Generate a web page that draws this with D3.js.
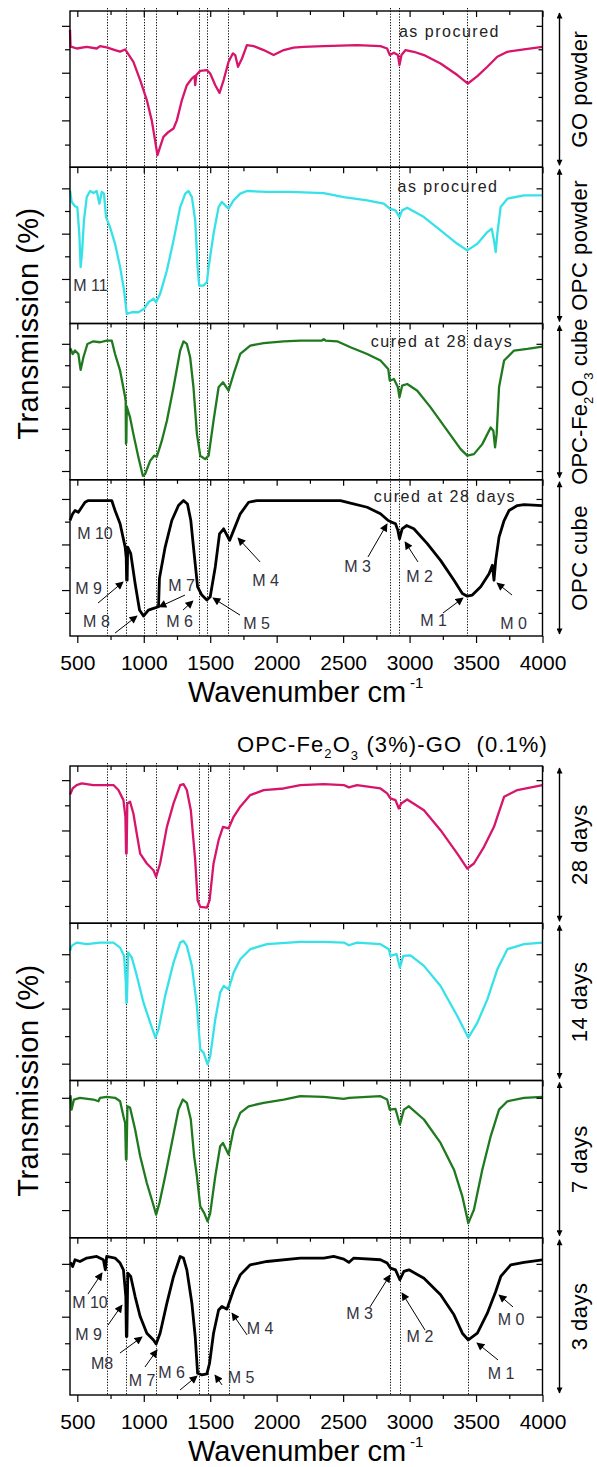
<!DOCTYPE html>
<html>
<head>
<meta charset="utf-8">
<script src="https://cdn.jsdelivr.net/npm/d3@7"></script>
<style>
  html, body { margin: 0; padding: 0; background: #fff; }
  svg { display: block; }
  text { font-family: Arial, "Liberation Sans", sans-serif; }
</style>
</head>
<body>
<svg id="chart" width="597" height="1467"></svg>
<script>
// ---- wavenumber axis ----
const xDomain = [445, 4000];
const xMajorTicks = [500, 1000, 1500, 2000, 2500, 3000, 3500, 4000];
const xMinorTicks = [750, 1250, 1750, 2250, 2750, 3250, 3750];

// ---- band positions marked with dotted guides ----
const bandsPowder = [720, 866, 1000, 1092, 1414, 1478, 1636, 2851, 2922, 3432];
const bandsCured  = [720, 867, 1093, 1416, 1480, 1638, 2855, 2930, 3440];

// ---- spectra: [wavenumber (cm-1), transmission (% of panel span)] ----
const goPowder = [[445,88],[449,77],[458,77],[495,76],[571,77],[646,76],[671,77.5],[721,76.7],[784,75],[822,74],[860,75.4],[922,67.5],[973,55.8],[1023,43],[1060,30],[1085,17.3],[1103,7.7],[1123,13],[1148,19.4],[1186,22.6],[1224,24.8],[1249,30],[1287,43],[1324,52.5],[1362,56.8],[1382,58.3],[1387,52.5],[1395,59],[1425,61.7],[1475,62.2],[1500,60],[1538,52.5],[1570,47.6],[1601,55.8],[1638,67.5],[1671,72.9],[1688,71.8],[1709,64.3],[1739,69.6],[1776,78.2],[1827,77.5],[1902,75],[1977,71.8],[2053,75],[2128,76.5],[2200,77.1],[2354,77.5],[2605,78.2],[2781,77.5],[2831,76],[2851,71.8],[2882,73.3],[2912,71.8],[2924,65.4],[2939,71.8],[2970,75],[3032,73.9],[3108,71.8],[3233,66.4],[3359,59],[3422,54.7],[3439,53.6],[3510,58.3],[3585,64.3],[3660,70.7],[3736,73.9],[3861,75.4],[3999,77.1]];

const opcPowder = [[445,85.2],[458,77.8],[483,75],[500,74.5],[515,57.4],[525,36.1],[535,44.6],[550,66],[571,80.9],[596,84.8],[621,83.5],[646,84.8],[666,76.7],[684,84.2],[701,83.1],[716,68.1],[746,61.7],[784,51],[822,36.1],[852,21.1],[872,6.2],[910,7.2],[960,7.2],[1003,9.4],[1035,13.6],[1073,15.8],[1093,13.6],[1123,19],[1174,33.9],[1224,53.2],[1274,74.5],[1312,83.1],[1337,84.8],[1362,80.9],[1387,66],[1405,36.1],[1417,24.3],[1450,24.3],[1475,26.5],[1488,36.1],[1525,57.4],[1563,74.5],[1588,77.8],[1613,75.6],[1638,73.5],[1676,78.8],[1726,83.1],[1776,84.8],[1927,84.2],[2103,84.2],[2354,83.5],[2505,80.9],[2681,78.8],[2806,76.7],[2851,73.5],[2894,72.4],[2924,68.1],[2944,72.4],[2982,74.1],[3108,68.1],[3233,59.6],[3359,51],[3434,46.8],[3510,51],[3585,58.5],[3618,60.7],[3635,53.2],[3648,45.7],[3660,57.4],[3685,74.5],[3736,79.9],[3861,82],[3999,82]];

const opcFeCube = [[445,84],[450,83.7],[465,80.5],[483,82.7],[508,80.5],[525,70.3],[546,78.4],[576,86.9],[621,88.6],[671,88],[721,89.1],[759,89.1],[784,80.5],[822,69.8],[860,52.8],[864,50],[866,23],[869,24],[872,47],[877,45.3],[897,39.9],[922,29.2],[960,14.3],[993,2.5],[1010,3.6],[1048,12.1],[1078,15.4],[1098,14.7],[1136,25],[1174,37.8],[1224,59.2],[1274,82.7],[1299,88.6],[1324,86.9],[1349,78.4],[1374,59.2],[1400,29.2],[1425,15.4],[1462,13.2],[1488,15.4],[1525,37.8],[1563,59.2],[1596,62.4],[1638,57],[1676,67.7],[1726,80.5],[1801,85.9],[1902,87.4],[2053,88.6],[2178,89.1],[2340,89.1],[2354,90],[2368,89.1],[2455,88.6],[2555,84.8],[2681,80.5],[2781,76.3],[2839,70.9],[2851,63.4],[2882,64.5],[2912,59.2],[2924,52.8],[2944,60.2],[2982,61.3],[3058,57],[3158,46.3],[3284,31.4],[3384,19.6],[3434,15.4],[3484,16.4],[3547,22.8],[3610,33.5],[3630,31.4],[3643,20.7],[3655,29.2],[3673,59.2],[3711,76.3],[3786,82.7],[3886,83.7],[3999,85.2]];

const opcCube = [[445,74],[450,75],[465,78.2],[483,80.3],[508,79.2],[533,82.4],[558,85.6],[583,86.7],[671,86.7],[759,86.7],[784,80.3],[822,71.8],[860,56.9],[868,50],[871,35.7],[875,35.7],[879,56.9],[902,52.7],[935,33.6],[968,16.6],[998,12.8],[1035,16.6],[1073,17.7],[1111,18.7],[1118,37],[1161,56.9],[1211,73.9],[1261,83.5],[1299,86.7],[1329,84.5],[1354,73.9],[1379,52.7],[1405,31.5],[1437,26.2],[1475,23],[1500,25.1],[1538,44.2],[1570,65.4],[1601,68.6],[1646,61.2],[1676,67.6],[1726,78.2],[1789,85.6],[1852,86.7],[2178,86.7],[2480,86.7],[2555,85],[2681,82.4],[2781,78.2],[2839,73.9],[2864,72.9],[2894,71.8],[2912,67.6],[2924,62.2],[2944,68.6],[2977,70.7],[3032,68.6],[3133,59.1],[3233,48.4],[3334,35.7],[3397,27.2],[3434,25.5],[3472,26.2],[3535,31.5],[3598,39.9],[3623,45.3],[3635,35.7],[3648,48.4],[3673,63.3],[3711,73.9],[3748,80.3],[3811,83.5],[3861,84.1],[3999,83.5]];

const cured28 = [[445,82],[450,82.6],[465,85.7],[495,87.9],[533,88.9],[621,87.9],[721,87.9],[772,87.9],[809,84.7],[847,78.3],[862,67.7],[867,44.3],[871,44.3],[876,76.2],[897,77.3],[922,69.8],[947,57.1],[973,44.3],[1023,38],[1073,33.7],[1093,29.5],[1123,38],[1174,61.3],[1224,76.2],[1274,87.9],[1299,88.5],[1324,84.7],[1354,71.9],[1387,40.1],[1405,14.6],[1425,10.4],[1475,10],[1495,14.6],[1525,38],[1563,52.8],[1596,61.3],[1638,60.3],[1676,67.7],[1726,74.1],[1801,81.5],[1902,84.7],[2053,85.7],[2178,87.9],[2354,88.5],[2505,87.9],[2543,86.4],[2605,87.9],[2781,85.7],[2831,82.6],[2856,79.4],[2894,78.3],[2919,73],[2937,76.2],[2982,78.7],[3108,71.9],[3233,59.2],[3359,44.3],[3434,34.8],[3484,38],[3560,48.6],[3635,61.3],[3660,67.7],[3711,80.4],[3811,84.7],[3999,87.9]];

const cured14 = [[445,82.4],[457,85.6],[495,87.7],[571,86.7],[671,87.7],[772,87.7],[822,84.5],[852,79.2],[865,62.3],[869,49.5],[873,49.5],[882,81.4],[910,78.2],[948,66.5],[998,49.5],[1048,36.8],[1088,27.2],[1111,32.5],[1161,53.8],[1224,75],[1274,87.7],[1299,88.8],[1324,85.6],[1362,72.9],[1400,47.4],[1425,19.8],[1450,17.7],[1480,10.2],[1500,15.5],[1538,38.9],[1575,55.9],[1601,60.1],[1638,58],[1676,68.6],[1726,77.1],[1801,83.5],[1927,86.7],[2178,88.2],[2354,88.2],[2505,87.7],[2543,86],[2605,87.7],[2781,86.7],[2844,83.5],[2856,79.2],[2902,80.3],[2927,71.8],[2952,79.2],[3007,79.6],[3108,72.9],[3233,60.1],[3359,41],[3442,27.2],[3510,36.8],[3585,51.6],[3660,70.7],[3736,83.5],[3861,86.7],[3999,87.7]];

const cured7 = [[445,88],[450,90],[457,81.5],[475,87.9],[520,89],[621,87.9],[659,86.8],[671,89],[721,89.6],[784,89],[822,86.8],[847,77.3],[860,73],[866,49.7],[870,49.7],[877,83.6],[897,82.6],[935,68.8],[973,51.8],[1023,34.8],[1068,22.1],[1093,14.7],[1118,22.1],[1161,39.1],[1211,60.3],[1261,81.5],[1294,87.9],[1324,85.8],[1354,75.2],[1379,51.8],[1400,39.1],[1425,20],[1455,15.7],[1480,10.4],[1500,15.7],[1538,39.1],[1575,58.2],[1596,60.3],[1638,52.9],[1676,68.8],[1726,79.4],[1789,83.6],[1902,85.8],[2053,87.9],[2178,90],[2354,89.6],[2505,88.3],[2543,89],[2781,90],[2831,87.9],[2851,81.5],[2894,81.9],[2927,72],[2957,81.5],[2995,83.6],[3108,75.2],[3233,60.3],[3334,43.3],[3397,26.3],[3442,9.3],[3484,17.8],[3547,43.3],[3610,64.5],[3673,81.5],[3736,86.8],[3861,89],[3999,89.6]];

const cured3 = [[445,84],[450,83.9],[465,81.7],[483,86],[520,84.9],[571,87.1],[646,88.1],[696,86],[711,79.6],[721,88.1],[784,87.1],[822,83.9],[847,79.6],[865,62.6],[869,37.2],[873,37.2],[880,77.5],[902,75.4],[935,62.6],[973,49.9],[1023,39.3],[1073,35],[1093,32.5],[1123,39.3],[1174,58.4],[1224,75.4],[1274,88.1],[1299,87.1],[1324,79.6],[1362,58.4],[1387,37.2],[1405,13.8],[1437,12.8],[1475,13.4],[1495,20.2],[1525,39.3],[1563,54.1],[1588,56.3],[1626,54.6],[1676,66.9],[1726,76.4],[1801,82.8],[1927,84.9],[2178,87.1],[2354,87.1],[2429,88.1],[2505,86.4],[2543,84.3],[2580,87.1],[2781,86],[2831,83.9],[2856,80.7],[2894,79.6],[2927,73.3],[2957,78.6],[2995,79.6],[3108,74.3],[3233,63.7],[3334,51],[3397,39.3],[3442,35],[3510,39.3],[3585,52],[3648,65.8],[3686,75.4],[3761,82.8],[3861,84.3],[3999,86]];

// ---- unlabelled transmission ticks of each panel ----
const ticksPowder = [[90.5,75.5,60.5,45,30,14.5],[86.5,72,57.5,43,28.5,14],[87,73.3,59.6,46,32.6,19,5.6],[87.7,73.2,58.6,44,29.4,14.8]];
const ticksCured  = [[91,75,59,43,27,11],[80.3,63,45.7,28.2,10.7],[89,71.3,53.5,35.5,17.6],[83.4,66.4,49.8,32.9,16.4]];

// ---- sample names shown on the right of each panel ----
const namesPowder = ["GO powder", "OPC powder", "OPC-Fe2O3 cube", "OPC cube"];
const namesCured  = ["28 days", "14 days", "7 days", "3 days"];

// ---- peak labels: [panel, text, wavenumber, transmission] ----
const peakLabelsPowder = [
  [1,"M 11",599,24.6],
  [3,"M 10",633,65.9],[3,"M 9",584,30.1],[3,"M 8",644,9],[3,"M 7",1284,32.6],[3,"M 6",1269,9],
  [3,"M 5",1848,8.3],[3,"M 4",1916,35.8],[3,"M 3",2608,44.2],[3,"M 2",3075,37.8],[3,"M 1",3180,10.2],[3,"M 0",3782,8.3]
];
// ---- peak pointers: [panel, from wn, from T, to wn, to T] ----
const peakArrowsPowder = [
  [3,656,21.1,844,34.6],[3,784,1.9,949,12.8],[3,1310,26.2,1115,18.6],[3,1295,16.6,1370,22.4],
  [3,1724,13.4,1521,24.3],[3,1875,47.4,1709,62.7],[3,2687,50.6,2830,71.7],[3,3063,47.4,2966,60.2],
  [3,3251,14.7,3402,24.3],[3,3771,26.2,3658,33.9]
];
const peakLabelsCured = [
  [3,"M 10",595,59.1],[3,"M 9",584,38.2],[3,"M8",686,20.3],[3,"M 7",987,9.5],[3,"M 6",1209,14],
  [3,"M 5",1732,11.4],[3,"M 4",1875,42.6],[3,"M 3",2623,52.1],[3,"M 2",3078,36.9],[3,"M 0",3763,47.7],[3,"M 1",3688,13.4]
];
const peakArrowsCured = [
  [3,580,64.2,686,77.6],[3,731,44.5,836,57.2],[3,821,26.7,987,36.9],[3,1009,17.8,1100,28.6],
  [3,1273,3.2,1401,12.1],[3,1589,6.4,1536,12.7],[3,1777,38.2,1664,52.1],[3,2702,56,2853,76.3],
  [3,3116,41.3,2943,64.9],[3,3665,22.3,3507,33.1],[3,3778,56,3673,63.6]
];
// ---- condition notes: [panel, text, wavenumber, transmission] ----
const notesPowder = [[0,"as procured",3300,87.2],[1,"as procured",3289,87.4],[2,"cured at 28 days",3244,88.8],[3,"cured at 28 days",3266,89]];

// ---------------------------------------------------------------
const svg = d3.select("#chart");
const L = 70, R = 542.5;
const x = d3.scaleLinear().domain(xDomain).range([L, R]);
const crisp = v => Math.round(v) + 0.5;

const defs = svg.append("defs");
defs.append("marker").attr("id", "head").attr("viewBox", "0 0 10 10")
  .attr("refX", 9).attr("refY", 5).attr("markerWidth", 9).attr("markerHeight", 8)
  .attr("markerUnits", "userSpaceOnUse").attr("orient", "auto-start-reverse")
  .append("path").attr("d", "M0,0 L10,5 L0,10 z").attr("fill", "#000");
defs.append("marker").attr("id", "span").attr("viewBox", "0 0 10 10")
  .attr("refX", 9).attr("refY", 5).attr("markerWidth", 9).attr("markerHeight", 6)
  .attr("markerUnits", "userSpaceOnUse").attr("orient", "auto-start-reverse")
  .append("path").attr("d", "M0,0 L10,5 L0,10 z").attr("fill", "#000");

function axisGroup(parent, ax, transform) {
  const a = parent.append("g").attr("transform", transform).call(ax);
  a.select(".domain").remove();
  a.selectAll("line").attr("stroke", "#000").attr("stroke-width", 1.2);
  return a;
}

function sampleName(g, name, cx, cy) {
  const t = g.append("text")
    .attr("x", cx).attr("y", cy)
    .attr("transform", `rotate(-90,${cx},${cy})`)
    .attr("text-anchor", "middle")
    .attr("font-size", 22).attr("letter-spacing", 0.5).attr("fill", "#000");
  const m = name.match(/^(.*Fe)2O3(.*)$/);
  if (m) {
    t.attr("letter-spacing", 0);
    t.append("tspan").text(m[1]);
    t.append("tspan").attr("dy", 6).attr("font-size", 13).text("2");
    t.append("tspan").attr("dy", -6).text("O");
    t.append("tspan").attr("dy", 6).attr("font-size", 13).text("3");
    t.append("tspan").attr("dy", -6).text(m[2]);
  } else {
    t.text(name);
  }
}

function drawFigure(fig) {
  const n = fig.series.length;
  const bottom = fig.top + n * fig.panelH;
  const g = svg.append("g");

  // dotted band guides
  g.selectAll("line.band").data(fig.bands).join("line").attr("class", "band")
    .attr("x1", d => crisp(x(d))).attr("x2", d => crisp(x(d)))
    .attr("y1", fig.top - 3).attr("y2", bottom)
    .attr("stroke", "#111").attr("stroke-width", 1).attr("stroke-dasharray", "1.3,1.5");

  const yScales = [];
  fig.series.forEach((data, i) => {
    const yTop = fig.top + i * fig.panelH;
    const y = d3.scaleLinear().domain([0, 100]).range([yTop + fig.panelH, yTop]);
    yScales.push(y);
    const pg = g.append("g");

    pg.append("path").datum(data)
      .attr("fill", "none").attr("stroke", fig.colors[i]).attr("stroke-width", fig.widths[i])
      .attr("stroke-linejoin", "round")
      .attr("d", d3.line().x(d => x(d[0])).y(d => y(d[1])));

    pg.append("rect").attr("x", L).attr("y", yTop).attr("width", R - L).attr("height", fig.panelH)
      .attr("fill", "none").attr("stroke", "#000").attr("stroke-width", 1.4);

    const ticks = fig.ticks[i];
    const major = ticks.filter((_, k) => k % 2 === 0);
    const minor = ticks.filter((_, k) => k % 2 === 1);
    axisGroup(pg, d3.axisLeft(y).tickValues(major).tickSize(8).tickFormat(""), `translate(${L},0)`);
    axisGroup(pg, d3.axisLeft(y).tickValues(minor).tickSize(5).tickFormat(""), `translate(${L},0)`);
    axisGroup(pg, d3.axisRight(y).tickValues(major).tickSize(-6).tickFormat(""), `translate(${R},0)`);
    axisGroup(pg, d3.axisRight(y).tickValues(minor).tickSize(-4).tickFormat(""), `translate(${R},0)`);
    axisGroup(pg, d3.axisTop(x).tickValues(xMajorTicks).tickSize(-6).tickFormat(""), `translate(0,${yTop})`);
    axisGroup(pg, d3.axisTop(x).tickValues(xMinorTicks).tickSize(-4).tickFormat(""), `translate(0,${yTop})`);

    // double-headed span arrow and sample name on the right
    pg.append("line").attr("x1", 559.5).attr("x2", 559.5)
      .attr("y1", yTop + 2).attr("y2", yTop + fig.panelH - 2)
      .attr("stroke", "#000").attr("stroke-width", 1.4)
      .attr("marker-start", "url(#span)").attr("marker-end", "url(#span)");
    sampleName(pg, fig.names[i], 587, yTop + fig.panelH / 2);
  });

  // bottom wavenumber axis
  const bx = axisGroup(g, d3.axisBottom(x).tickValues(xMajorTicks).tickSize(7).tickPadding(12).tickFormat(d3.format("d")), `translate(0,${bottom})`);
  bx.selectAll("text").attr("font-size", 21).attr("fill", "#000")
    .attr("font-family", "Arial, 'Liberation Sans', sans-serif");
  axisGroup(g, d3.axisBottom(x).tickValues(xMinorTicks).tickSize(4).tickFormat(""), `translate(0,${bottom})`);

  const xl = g.append("text").attr("x", 188).attr("y", bottom + 66)
    .attr("font-size", 29).attr("fill", "#000");
  xl.append("tspan").text("Wavenumber cm");
  xl.append("tspan").attr("dy", -14).attr("dx", 4).attr("font-size", 15).text("-1");

  const yMid = fig.top + n * fig.panelH / 2;
  g.append("text").attr("x", 38).attr("y", yMid)
    .attr("transform", `rotate(-90,38,${yMid})`)
    .attr("text-anchor", "middle").attr("font-size", 29).attr("letter-spacing", 0.5)
    .attr("fill", "#000").text("Transmission (%)");

  // peak pointers and labels
  g.selectAll("line.ptr").data(fig.arrows).join("line").attr("class", "ptr")
    .attr("x1", d => x(d[1])).attr("y1", d => yScales[d[0]](d[2]))
    .attr("x2", d => x(d[3])).attr("y2", d => yScales[d[0]](d[4]))
    .attr("stroke", "#000").attr("stroke-width", 1).attr("marker-end", "url(#head)");
  g.selectAll("text.peak").data(fig.labels).join("text").attr("class", "peak")
    .attr("x", d => x(d[2])).attr("y", d => yScales[d[0]](d[3]))
    .attr("text-anchor", "middle").attr("dominant-baseline", "central")
    .attr("font-size", 16).attr("fill", "#333340").text(d => d[1]);
  g.selectAll("text.note").data(fig.notes).join("text").attr("class", "note")
    .attr("x", d => x(d[2])).attr("y", d => yScales[d[0]](d[3]))
    .attr("text-anchor", "middle").attr("dominant-baseline", "central")
    .attr("font-size", 16).attr("letter-spacing", 1.5).attr("fill", "#222").text(d => d[1]);
}

const palette = ["#d6156b", "#36e2e8", "#1f7a1f", "#000000"];
const strokeWidths = [2.3, 2.3, 2.3, 2.8];

drawFigure({
  top: 11, panelH: 156.25,
  series: [goPowder, opcPowder, opcFeCube, opcCube],
  names: namesPowder, ticks: ticksPowder, bands: bandsPowder,
  colors: palette, widths: strokeWidths,
  labels: peakLabelsPowder, arrows: peakArrowsPowder, notes: notesPowder
});

drawFigure({
  top: 766, panelH: 157.25,
  series: [cured28, cured14, cured7, cured3],
  names: namesCured, ticks: ticksCured, bands: bandsCured,
  colors: palette, widths: strokeWidths,
  labels: peakLabelsCured, arrows: peakArrowsCured, notes: []
});

// composition heading of the lower stack
const title = svg.append("text").attr("x", 237).attr("y", 752)
  .attr("font-size", 22).attr("letter-spacing", 1.1).attr("fill", "#000");
title.append("tspan").text("OPC-Fe");
title.append("tspan").attr("dy", 6).attr("font-size", 13).text("2");
title.append("tspan").attr("dy", -6).text("O");
title.append("tspan").attr("dy", 8).attr("font-size", 13).text("3");
title.append("tspan").attr("dy", -8).text(" (3%)-GO\u00a0 (0.1%)");
</script>
</body>
</html>
